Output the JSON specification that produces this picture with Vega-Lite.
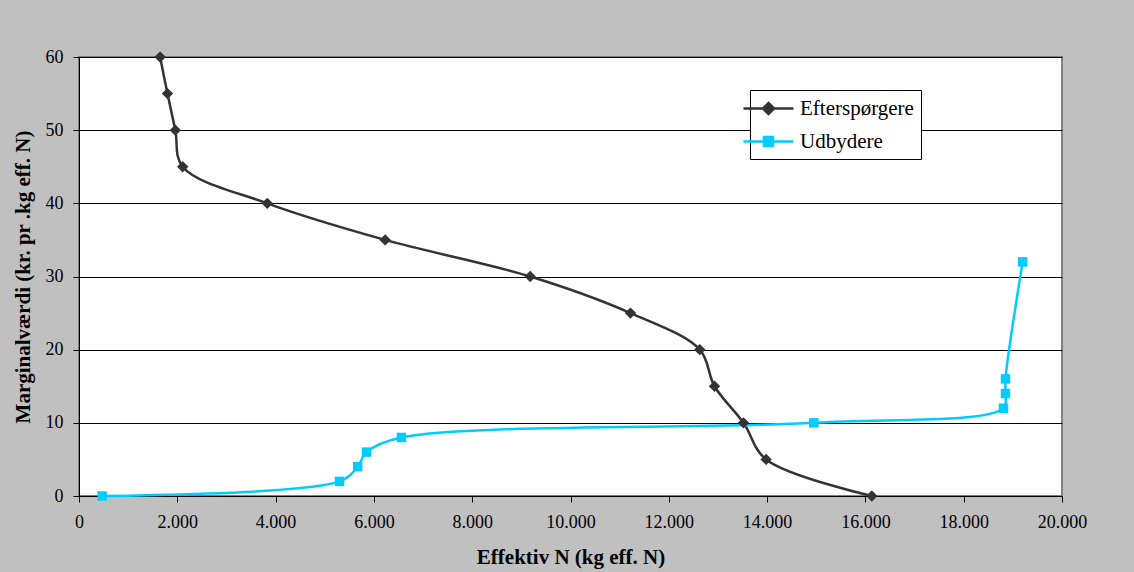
{
  "$schema": "https://vega.github.io/schema/vega-lite/v6.json",
  "width": 983,
  "height": 439,
  "autosize": {"type": "none"},
  "padding": {"left": 79, "top": 57, "right": 72, "bottom": 76},
  "background": "#c0c0c0",
  "config": {
    "view": {"fill": "white", "stroke": "#808080", "strokeWidth": 2},
    "font": "Liberation Serif",
    "axis": {
      "domainColor": "black",
      "domainWidth": 1,
      "tickColor": "black",
      "tickSize": 6,
      "tickWidth": 1,
      "labelFont": "Liberation Serif",
      "labelFontSize": 18,
      "labelColor": "black",
      "titleFont": "Liberation Serif",
      "titleFontSize": 21,
      "titleFontWeight": "bold",
      "titleColor": "black",
      "gridColor": "black",
      "gridWidth": 1,
      "gridOpacity": 1
    }
  },
  "data": {
    "values": [
      {"series": "Efterspørgere", "x": 1650, "y": 60},
      {"series": "Efterspørgere", "x": 1800, "y": 55},
      {"series": "Efterspørgere", "x": 1960, "y": 50},
      {"series": "Efterspørgere", "x": 2110, "y": 45},
      {"series": "Efterspørgere", "x": 3830, "y": 40},
      {"series": "Efterspørgere", "x": 6230, "y": 35},
      {"series": "Efterspørgere", "x": 9180, "y": 30},
      {"series": "Efterspørgere", "x": 11220, "y": 25},
      {"series": "Efterspørgere", "x": 12630, "y": 20},
      {"series": "Efterspørgere", "x": 12930, "y": 15},
      {"series": "Efterspørgere", "x": 13520, "y": 10},
      {"series": "Efterspørgere", "x": 13980, "y": 5},
      {"series": "Efterspørgere", "x": 16130, "y": 0},
      {"series": "Udbydere", "x": 470, "y": 0},
      {"series": "Udbydere", "x": 5300, "y": 2},
      {"series": "Udbydere", "x": 5670, "y": 4},
      {"series": "Udbydere", "x": 5850, "y": 6},
      {"series": "Udbydere", "x": 6560, "y": 8},
      {"series": "Udbydere", "x": 14950, "y": 10},
      {"series": "Udbydere", "x": 18810, "y": 12},
      {"series": "Udbydere", "x": 18850, "y": 14},
      {"series": "Udbydere", "x": 18850, "y": 16},
      {"series": "Udbydere", "x": 19200, "y": 32}
    ]
  },
  "encoding": {
    "x": {
      "field": "x",
      "type": "quantitative",
      "scale": {"domain": [0, 20000], "nice": false, "zero": false},
      "axis": {
        "title": "Effektiv N (kg eff. N)",
        "grid": false,
        "tickCount": 10,
        "labelExpr": "replace(format(datum.value, ','), ',', '.')",
        "labelPadding": 11,
        "titlePadding": 15,
        "labelFlush": false,
        "labelOverlap": false
      }
    },
    "y": {
      "field": "y",
      "type": "quantitative",
      "scale": {"domain": [0, 60], "nice": false},
      "axis": {
        "title": "Marginalværdi (kr. pr .kg eff. N)",
        "grid": true,
        "tickCount": 6,
        "labelPadding": 10,
        "titlePadding": 12
      }
    },
    "color": {
      "field": "series",
      "type": "nominal",
      "scale": {"domain": ["Efterspørgere", "Udbydere"], "range": ["#333333", "#00ccff"]},
      "legend": {
        "orient": "none",
        "legendX": 671,
        "legendY": 33,
        "title": null,
        "strokeColor": "black",
        "fillColor": "white",
        "padding": 7,
        "labelFont": "Liberation Serif",
        "labelFontSize": 21,
        "labelColor": "black",
        "symbolSize": 400,
        "symbolStrokeWidth": 2.5,
        "rowPadding": 11,
        "labelOffset": 20,
        "encode": {
          "symbols": {
            "update": {
              "shape": {"signal": "datum.value === 'Udbydere' ? 'M-2.5,0H2.5M-0.45,-0.45H0.45V0.45H-0.45Z' : 'M-2.5,0H2.5M0,-0.55L0.55,0L0,0.55L-0.55,0Z'"},
              "fill": {"signal": "datum.value === 'Udbydere' ? '#00ccff' : '#333333'"},
              "stroke": {"signal": "datum.value === 'Udbydere' ? '#00ccff' : '#333333'"},
              "opacity": {"value": 1},
              "fillOpacity": {"value": 1},
              "strokeWidth": {"value": 2.5}
            }
          }
        }
      }
    },
    "order": {"field": "y", "type": "quantitative"}
  },
  "layer": [
    {"mark": {"type": "line", "interpolate": "catmull-rom", "strokeWidth": 2.5}},
    {
      "transform": [{"filter": "datum.series === 'Efterspørgere'"}],
      "mark": {"type": "point", "filled": true, "opacity": 1, "size": 130, "shape": "diamond"}
    },
    {
      "transform": [{"filter": "datum.series === 'Udbydere'"}],
      "mark": {"type": "point", "filled": true, "opacity": 1, "size": 90, "shape": "square"}
    }
  ]
}
